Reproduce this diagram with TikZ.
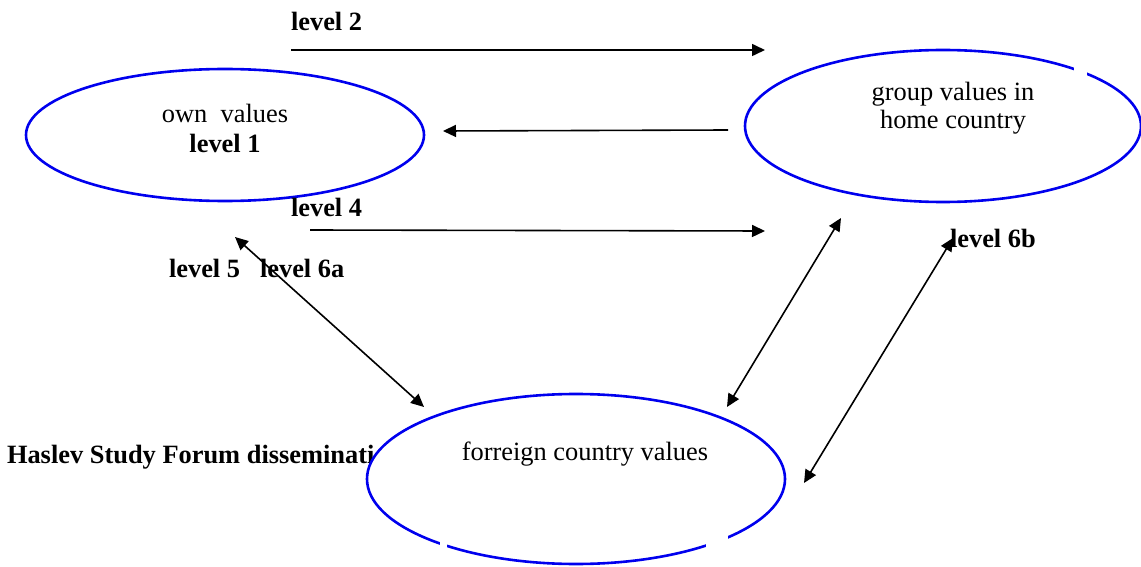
\documentclass[tikz,border=0pt]{standalone}
\usepackage{fontspec}
\setmainfont{Liberation Serif}
\usetikzlibrary{shapes.geometric,arrows.meta}
\definecolor{ringblue}{RGB}{0,0,238}
\begin{document}
\begin{tikzpicture}[x=1bp,y=-1bp,
  every node/.style={inner sep=0pt,outer sep=0pt},
  txt/.style={font=\fontsize{26.5}{30}\selectfont, anchor=base},
  lbl/.style={font=\fontsize{26.5}{30}\selectfont\bfseries, anchor=base west},
  valring/.style={ellipse, draw=ringblue, line width=2.6bp, fill=white},
  conn/.style={line width=1.6bp, -{Triangle[length=13bp,width=12bp]}},
  biconn/.style={line width=1.6bp, {Triangle[length=13bp,width=12bp]}-{Triangle[length=13bp,width=12bp]}},
  gap/.style={fill=white}
]
\useasboundingbox (0,0) rectangle (1141,567);

% caption partly hidden behind the lower ellipse
\node[lbl] (haslev) at (7,463) {Haslev Study Forum dissemination};

% the three value spheres
\node[valring, minimum width=398bp, minimum height=132bp] (own) at (225,135) {};
\node[valring, minimum width=396bp, minimum height=152bp] (group) at (943,126) {};
\node[valring, minimum width=418bp, minimum height=170bp] (foreign) at (576,479) {};

% texts inside the spheres
\node[txt] (ownt) at (225,123) {own\ \ values};
\node[lbl, anchor=base] (lv1) at (225,153) {level 1};
\node[txt] (grp1) at (953,101) {group values in};
\node[txt] (grp2) at (953,129) {home country};
\node[txt] (frn) at (585,460) {forreign country values};

% level labels
\node[lbl] (lv2) at (291,31) {level 2};
\node[lbl] (lv4) at (291,217) {level 4};
\node[lbl] (lv5) at (169,278) {level 5};
\node[lbl] (lv6a) at (260,278) {level 6a};
\node[lbl] (lv6b) at (950,248) {level 6b};

% arrow end points
\coordinate (l2s) at (291,50);  \coordinate (l2e) at (765,50);
\coordinate (bks) at (728,130); \coordinate (bke) at (443,131);
\coordinate (l4s) at (310,230); \coordinate (l4e) at (765,231);
\coordinate (l5a) at (235,237); \coordinate (l5b) at (424,407);
\coordinate (m6a) at (841,218); \coordinate (m6b) at (727,407);
\coordinate (r6a) at (953,238); \coordinate (r6b) at (804,483);

\draw[conn] (l2s) -- (l2e);
\draw[conn] (bks) -- (bke);
\draw[conn] (l4s) -- (l4e);
\draw[biconn] (l5a) -- (l5b);
\draw[biconn] (m6a) -- (m6b);
\draw[biconn] (r6a) -- (r6b);

% breaks in the ellipse outlines
\fill[gap] (1074,62) rectangle (1087,77);
\fill[gap] (440,537) rectangle (447,553);
\fill[gap] (706,530) rectangle (728,555);
\end{tikzpicture}
\end{document}
